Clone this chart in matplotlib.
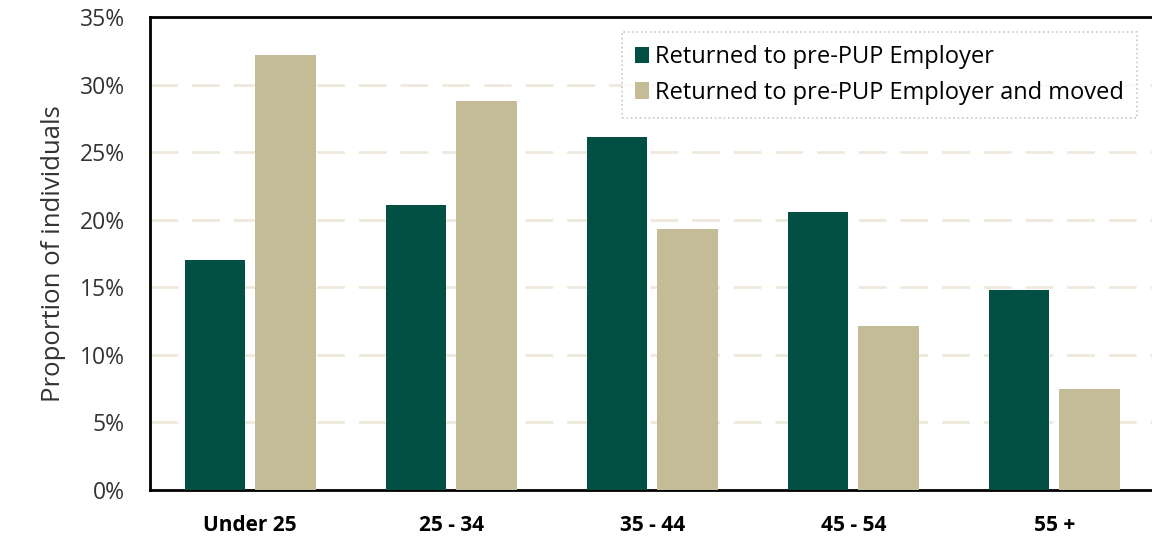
import numpy as np
import matplotlib.pyplot as plt
from matplotlib.ticker import PercentFormatter

plt.rcParams['font.family'] = ['Open Sans', 'DejaVu Sans']

categories = ['Under 25', '25 - 34', '35 - 44', '45 - 54', '55 +']
returned = [17.0, 21.1, 26.1, 20.6, 14.8]
returned_moved = [32.2, 28.8, 19.3, 12.1, 7.5]
labels = ['Returned to pre-PUP Employer', 'Returned to pre-PUP Employer and moved']
colors = ['#024F43', '#C4BC97']

fig = plt.figure(figsize=(11.52, 5.43), dpi=100)
ax = fig.add_axes([0.1300, 0.0976, 0.8724, 0.8711])

x = np.arange(len(categories))
w = 0.3
ax.bar(x - 0.175, returned, w, color=colors[0], label=labels[0], zorder=3)
ax.bar(x + 0.175, returned_moved, w, color=colors[1], label=labels[1], zorder=3)

ax.set_xlim(-0.5, len(categories) - 0.5)
ax.set_ylim(0, 35)
ax.set_yticks(np.arange(0, 36, 5))
ax.yaxis.set_major_formatter(PercentFormatter(decimals=0))
ax.set_xticks(x)
ax.set_xticklabels(categories, fontweight='bold', fontsize=15)
ax.tick_params(axis='y', labelsize=16.5, length=0, pad=18, labelcolor='#333333')
ax.tick_params(axis='x', length=0, pad=18)
ax.set_ylabel('Proportion of individuals', fontsize=18.5, color='#333333', labelpad=10)

ax.yaxis.grid(True, color='#EEE9DC', linestyle=(0, (10, 5)), linewidth=2, zorder=0)
ax.spines['right'].set_visible(False)
for s in ['left', 'bottom', 'top']:
    ax.spines[s].set_linewidth(2)
    ax.spines[s].set_color('black')

leg = ax.legend(loc='upper right', bbox_to_anchor=(0.982, 0.968), fontsize=17,
                frameon=True, fancybox=False, handlelength=0.6, handleheight=0.7,
                handletextpad=0.25, borderpad=0.55, labelspacing=0.5,
                borderaxespad=0)
leg.get_frame().set_edgecolor('#BBBBBB')
leg.get_frame().set_linestyle(':')
leg.get_frame().set_linewidth(1.2)

fig.savefig('out.png', dpi=100)
